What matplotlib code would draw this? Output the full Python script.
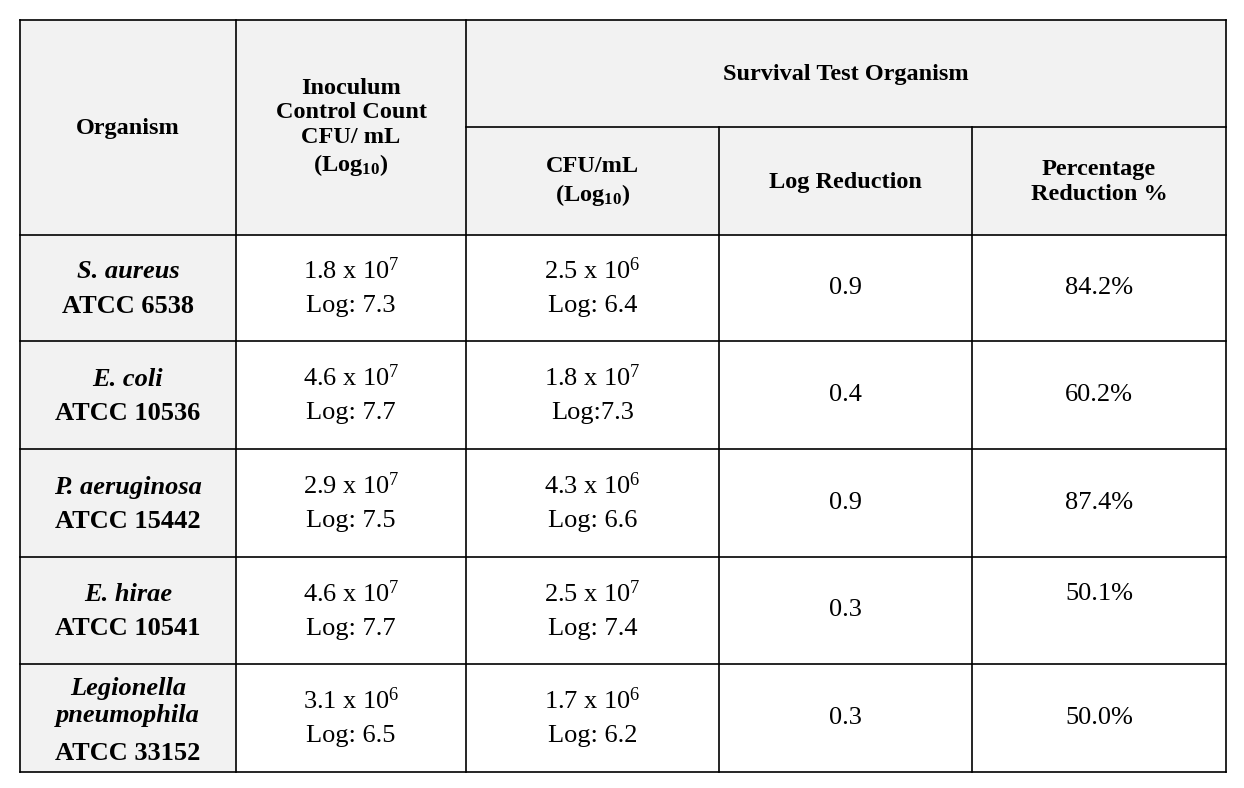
import matplotlib
matplotlib.use("Agg")
import matplotlib.pyplot as plt
from matplotlib.patches import Rectangle

plt.rcParams['font.family'] = ['Liberation Serif', 'DejaVu Serif']
plt.rcParams['mathtext.fontset'] = 'custom'
plt.rcParams['mathtext.rm'] = 'Liberation Serif'
plt.rcParams['mathtext.bf'] = 'Liberation Serif:bold'
plt.rcParams['mathtext.it'] = 'Liberation Serif:italic'

species = ["S. aureus", "E. coli", "P. aeruginosa", "E. hirae", "Legionella\npneumophila"]
strains = ["ATCC 6538", "ATCC 10536", "ATCC 15442", "ATCC 10541", "ATCC 33152"]
inoc_mant = ["1.8", "4.6", "2.9", "4.6", "3.1"]
inoc_exp = [7, 7, 7, 7, 6]
inoc_log = ["Log: 7.3", "Log: 7.7", "Log: 7.5", "Log: 7.7", "Log: 6.5"]
surv_mant = ["2.5", "1.8", "4.3", "2.5", "1.7"]
surv_exp = [6, 7, 6, 7, 6]
surv_log = ["Log: 6.4", "Log:7.3", "Log: 6.6", "Log: 7.4", "Log: 6.2"]
log_red = ["0.9", "0.4", "0.9", "0.3", "0.3"]
pct_red = ["84.2%", "60.2%", "87.4%", "50.1%", "50.0%"]

fig = plt.figure(figsize=(12.44, 7.88), dpi=100)
ax = fig.add_axes([0, 0, 1, 1])
ax.set_xlim(0, 1244); ax.set_ylim(788, 0); ax.axis('off')

cols = [20, 236, 466, 719, 972, 1226]
rows = [235, 341, 449, 557, 664, 772]
top, mid = 20, 127
gray = '#f2f2f2'
lw = 1.2

ax.add_patch(Rectangle((cols[0], top), cols[-1]-cols[0], rows[0]-top, fc=gray, ec='none'))
ax.add_patch(Rectangle((cols[0], rows[0]), cols[1]-cols[0], rows[-1]-rows[0], fc=gray, ec='none'))

ax.plot([cols[0], cols[-1]], [top, top], 'k', lw=lw)
ax.plot([cols[2], cols[-1]], [mid, mid], 'k', lw=lw)
for y in rows:
    ax.plot([cols[0], cols[-1]], [y, y], 'k', lw=lw)
for i, x in enumerate(cols):
    y0 = mid if i in (3, 4) else top
    ax.plot([x, x], [y0, rows[-1]], 'k', lw=lw)

def cx(i):
    return (cols[i] + cols[i+1]) / 2

hfs = 17.5
fs = 19
ax.text(cx(0), 128, "Organism", ha='center', va='center', fontsize=hfs, fontweight='bold')
ax.text(cx(1), 128, "Inoculum\nControl Count\nCFU/ mL\n(Log$_{\\mathbf{10}}$)", ha='center', va='center',
        fontsize=hfs, fontweight='bold', linespacing=1.22)
ax.text((cols[2]+cols[-1])/2, 74, "Survival Test Organism", ha='center', va='center', fontsize=hfs, fontweight='bold')
ax.text(cx(2), 182, "CFU/mL\n(Log$_{\\mathbf{10}}$)", ha='center', va='center', fontsize=hfs, fontweight='bold', linespacing=1.22)
ax.text(cx(3), 182, "Log Reduction", ha='center', va='center', fontsize=hfs, fontweight='bold')
ax.text(cx(4), 182, "Percentage\nReduction %", ha='center', va='center', fontsize=hfs, fontweight='bold', linespacing=1.22)

for r in range(5):
    yc = (rows[r] + rows[r+1]) / 2
    if "\n" in species[r]:
        ax.text(cx(0), yc - 16, species[r], ha='center', va='center', fontsize=fs, style='italic',
                fontweight='bold', linespacing=1.2)
        ax.text(cx(0), yc + 35, strains[r], ha='center', va='center', fontsize=fs, fontweight='bold')
    else:
        ax.text(cx(0), yc - 16, species[r], ha='center', va='center', fontsize=fs, style='italic', fontweight='bold')
        ax.text(cx(0), yc + 18, strains[r], ha='center', va='center', fontsize=fs, fontweight='bold')
    ax.text(cx(1), yc - 17, f"{inoc_mant[r]} x 10$^{{{inoc_exp[r]}}}$", ha='center', va='center', fontsize=fs)
    ax.text(cx(1), yc + 18, inoc_log[r], ha='center', va='center', fontsize=fs)
    ax.text(cx(2), yc - 17, f"{surv_mant[r]} x 10$^{{{surv_exp[r]}}}$", ha='center', va='center', fontsize=fs)
    ax.text(cx(2), yc + 18, surv_log[r], ha='center', va='center', fontsize=fs)
    ax.text(cx(3), yc, log_red[r], ha='center', va='center', fontsize=fs)
    dy = -16 if r == 3 else 0
    ax.text(cx(4), yc + dy, pct_red[r], ha='center', va='center', fontsize=fs)

fig.savefig("out.png", dpi=100, facecolor='white')
